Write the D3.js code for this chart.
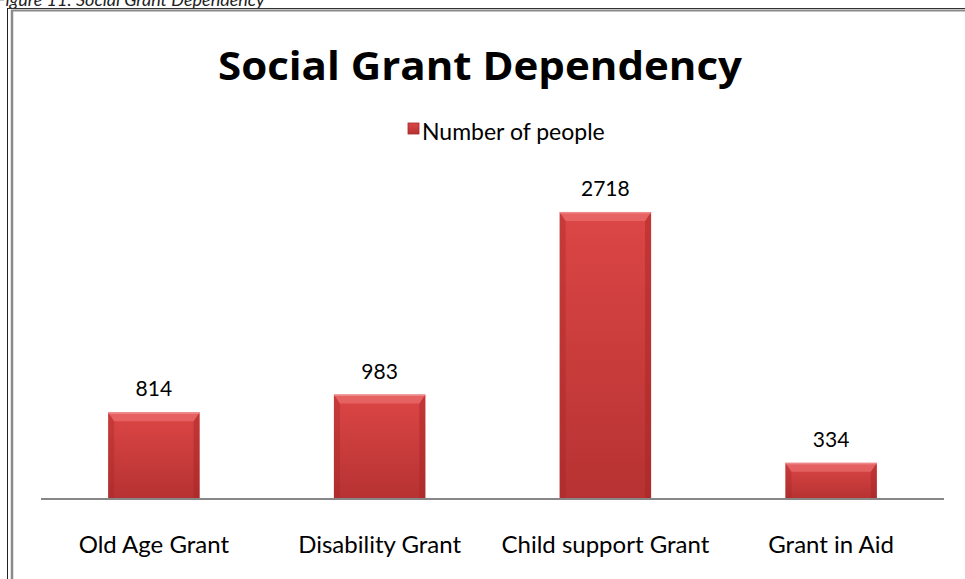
<!DOCTYPE html>
<html>
<head>
<meta charset="utf-8">
<script src="https://cdn.jsdelivr.net/npm/d3@7"></script>
<style>
  html, body { margin: 0; padding: 0; background: #fff; }
  svg { display: block; }
</style>
</head>
<body>
<svg id="chart" width="965" height="579"></svg>
<script>
const categories = ["Old Age Grant", "Disability Grant", "Child support Grant", "Grant in Aid"];
const values = [814, 983, 2718, 334];
const seriesName = "Number of people";
const chartTitle = "Social Grant Dependency";
const captionText = "Figure 11: Social Grant Dependency";

const font = "Lato, 'Open Sans', sans-serif";
const svg = d3.select("#chart");

// Caption above the frame (runs off the top edge)
svg.append("text")
  .attr("x", -4).attr("y", 6)
  .attr("font-family", font).attr("font-style", "italic")
  .attr("font-size", 18).attr("fill", "#222")
  .text(captionText);

// Frame around the chart
svg.append("line").attr("x1", 7).attr("x2", 965).attr("y1", 8.5).attr("y2", 8.5)
  .attr("stroke", "#333").attr("stroke-width", 1);
svg.append("line").attr("x1", 11).attr("x2", 965).attr("y1", 10.5).attr("y2", 10.5)
  .attr("stroke", "#8a8a8a").attr("stroke-width", 2);
svg.append("line").attr("x1", 7.5).attr("x2", 7.5).attr("y1", 8).attr("y2", 579)
  .attr("stroke", "#222").attr("stroke-width", 1);
svg.append("line").attr("x1", 12).attr("x2", 12).attr("y1", 10).attr("y2", 579)
  .attr("stroke", "#8a8a8a").attr("stroke-width", 2.5);

// Gradients for the bevelled bars
const defs = svg.append("defs");
const g = defs.append("linearGradient").attr("id", "barFill")
  .attr("x1", 0).attr("x2", 0).attr("y1", 0).attr("y2", 1);
g.append("stop").attr("offset", "0%").attr("stop-color", "#dc4646");
g.append("stop").attr("offset", "100%").attr("stop-color", "#b73232");

const plot = { left: 41, right: 944, base: 498 };
const x = d3.scaleBand().domain(categories).range([plot.left, plot.right]).padding(0);
const y = d3.scaleLinear().domain([0, 3000]).range([plot.base, plot.base - 315.7]);
const barW = x.bandwidth() * 0.405;

// Title
svg.append("text")
  .attr("x", 480).attr("y", 80)
  .attr("text-anchor", "middle")
  .attr("font-family", "'Open Sans', sans-serif").attr("font-weight", "bold")
  .attr("font-size", 39).attr("fill", "#000")
  .attr("textLength", 524).attr("lengthAdjust", "spacingAndGlyphs")
  .text(chartTitle);

// Legend
const lg = svg.append("g");
lg.append("rect").attr("x", 408).attr("y", 123).attr("width", 11).attr("height", 11)
  .attr("fill", "url(#barFill)").attr("stroke", "#a52828").attr("stroke-width", 0.8);
lg.append("text").attr("x", 422).attr("y", 140)
  .attr("font-family", font).attr("font-size", 23).attr("fill", "#000")
  .text(seriesName);

// Bars
const data = categories.map((c, i) => ({ c, v: values[i] }));
const bars = svg.append("g").selectAll("g").data(data)
  .join("g")
  .attr("transform", d => `translate(${x(d.c) + (x.bandwidth() - barW) / 2},${y(d.v)})`);

bars.append("rect")
  .attr("width", barW)
  .attr("height", d => plot.base - y(d.v))
  .attr("fill", "url(#barFill)");

// Bevel: darker sides, lighter top
const bev = 6, bevTop = 9;
bars.append("path")
  .attr("d", d => { const h = plot.base - y(d.v); return `M0,0 L${bev},${Math.min(bevTop, h)} L${bev},${h} L0,${h} Z`; })
  .attr("fill", "#a42424").attr("opacity", 0.35);
bars.append("path")
  .attr("d", d => { const h = plot.base - y(d.v); return `M${barW},0 L${barW - bev},${Math.min(bevTop, h)} L${barW - bev},${h} L${barW},${h} Z`; })
  .attr("fill", "#a42424").attr("opacity", 0.45);
bars.append("path")
  .attr("d", d => `M0,0 L${barW},0 L${barW - bev},${bevTop} L${bev},${bevTop} Z`)
  .attr("fill", "#f07a7a").attr("opacity", 0.55);
bars.append("rect")
  .attr("width", barW).attr("height", 1.5)
  .attr("fill", "#f4a0a0").attr("opacity", 0.6);

// Value labels
svg.append("g").selectAll("text").data(data)
  .join("text")
  .attr("x", d => x(d.c) + x.bandwidth() / 2)
  .attr("y", d => y(d.v) - 16)
  .attr("text-anchor", "middle")
  .attr("font-family", font).attr("font-size", 21).attr("fill", "#000")
  .text(d => d.v);

// Category axis
svg.append("line")
  .attr("x1", plot.left).attr("x2", plot.right)
  .attr("y1", plot.base + 1).attr("y2", plot.base + 1)
  .attr("stroke", "#878787").attr("stroke-width", 2);

svg.append("g").selectAll("text").data(categories)
  .join("text")
  .attr("x", d => x(d) + x.bandwidth() / 2)
  .attr("y", 553)
  .attr("text-anchor", "middle")
  .attr("font-family", font).attr("font-size", 24).attr("fill", "#000")
  .text(d => d);
</script>
</body>
</html>
